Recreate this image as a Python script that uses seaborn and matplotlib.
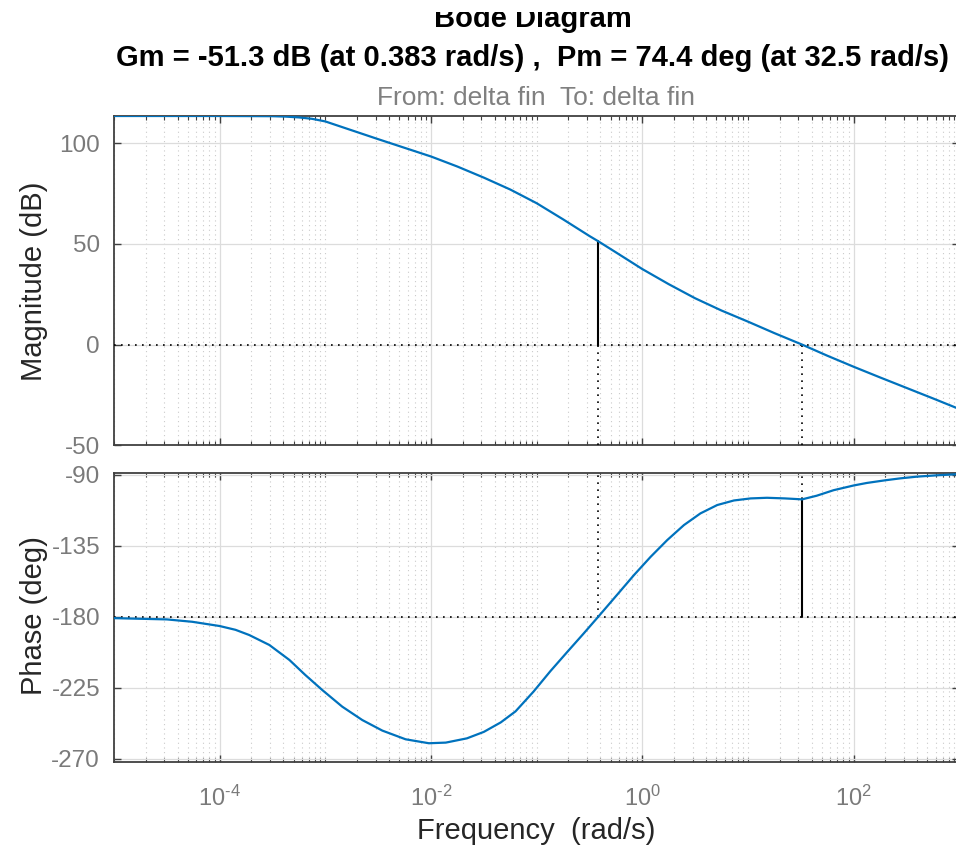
import numpy as np
import pandas as pd
import matplotlib
matplotlib.use("Agg")
import matplotlib.pyplot as plt
from matplotlib.ticker import FixedLocator, NullFormatter, FuncFormatter
from matplotlib.patches import Rectangle
import seaborn as sns

# ---------------- data ----------------
mag_logw = [-5.0, -4.0, -3.5, -3.375, -3.25, -3.125, -3.0, -2.875, -2.75, -2.5, -2.25,
            -2.0, -1.75, -1.5, -1.25, -1.0, -0.75, -0.5, -0.417, -0.25, 0.0, 0.25,
            0.5, 0.75, 1.0, 1.25, 1.512, 1.75, 2.0, 2.25, 2.5, 2.75, 3.0]
mag_db = [113.5, 113.5, 113.4, 113.2, 112.8, 112.1, 110.8, 108.6, 106.4, 102.0, 97.7,
          93.4, 88.4, 82.9, 77.0, 70.2, 62.2, 53.9, 51.3, 45.8, 37.5, 30.0,
          23.0, 16.9, 11.4, 5.7, 0.0, -5.5, -11.0, -16.3, -21.5, -26.7, -32.0]

ph_logw = [-5.0, -4.5, -4.26, -4.0, -3.85, -3.72, -3.53, -3.34, -3.19, -3.03, -2.84,
           -2.65, -2.46, -2.24, -2.02, -1.86, -1.66, -1.5, -1.34, -1.2, -1.03, -0.87,
           -0.71, -0.56, -0.417, -0.24, -0.079, 0.079, 0.236, 0.394, 0.55, 0.709, 0.867,
           1.025, 1.18, 1.35, 1.512, 1.65, 1.81, 2.0, 2.125, 2.3, 2.44, 2.6, 2.8, 3.0]
ph_deg = [-180.9, -181.7, -183.2, -185.9, -188.3, -191.6, -197.9, -207.4, -216.9, -226.4, -237.0,
          -245.5, -252.2, -257.7, -260.2, -259.8, -257.1, -253.0, -247.0, -240.0, -227.5, -214.5,
          -202.3, -191.0, -180.0, -166.2, -153.6, -142.0, -131.4, -121.9, -114.5, -109.2, -106.3,
          -105.0, -104.6, -105.0, -105.6, -103.3, -99.8, -96.8, -95.2, -93.5, -92.3, -91.2, -90.3, -89.6]

gm_freq = 0.383   # rad/s
gm_db = -51.3
pm_freq = 32.5    # rad/s
pm_deg = 74.4

mag_ticks = [-50, 0, 50, 100]
ph_ticks = [-270, -225, -180, -135, -90]
freq_ticks = [1e-4, 1e-2, 1e0, 1e2]

title1 = "Bode Diagram"
title2 = "Gm = -51.3 dB (at 0.383 rad/s) ,  Pm = 74.4 deg (at 32.5 rad/s)"
io_label = "From: delta fin  To: delta fin"

# ---------------- style ----------------
sns.set_style("ticks")
plt.rcParams['font.family'] = ['Liberation Sans', 'DejaVu Sans']
plt.rcParams['mathtext.fontset'] = 'custom'
plt.rcParams['mathtext.rm'] = 'Liberation Sans'
plt.rcParams['mathtext.it'] = 'Liberation Sans:italic'
plt.rcParams['mathtext.bf'] = 'Liberation Sans:bold'
plt.rcParams['mathtext.default'] = 'regular'
plt.rcParams['axes.unicode_minus'] = False

curve_color = "#0072BD"
spine_color = "#404040"
tick_color = "#7a7a7a"
label_color = "#262626"

W, H = 956, 848
fig = plt.figure(figsize=(W / 100, H / 100), dpi=100)

def frac_box(left, top, right, bottom):
    return [left / W, 1 - bottom / H, (right - left) / W, (bottom - top) / H]

ax1 = fig.add_axes(frac_box(114, 116, 959.3, 445.3))
ax2 = fig.add_axes(frac_box(114, 472.7, 959.3, 761.7))

mag_df = pd.DataFrame({"freq": 10 ** np.array(mag_logw), "mag": mag_db})
ph_df = pd.DataFrame({"freq": 10 ** np.array(ph_logw), "phase": ph_deg})

for ax in (ax1, ax2):
    ax.set_xscale("log")

sns.lineplot(data=mag_df, x="freq", y="mag", ax=ax1, color=curve_color, lw=1.6,
             sort=False, estimator=None, zorder=5)
sns.lineplot(data=ph_df, x="freq", y="phase", ax=ax2, color=curve_color, lw=1.6,
             sort=False, estimator=None, zorder=5)

xlim = (1e-5, 1e3)
ax1.set_ylim(-50, 113.5)
ax2.set_ylim(-271.9, -88.7)

minor_locs = [k * 10.0 ** n for n in range(-5, 3) for k in range(1, 10)
              if not any(abs(k * 10.0 ** n - t) / t < 1e-9 for t in freq_ticks)]


def pow10_label(v, pos):
    e = int(round(np.log10(v)))
    if e < 0:
        return r"$10^{\text{-}%d}$" % (-e)
    return r"$10^{%d}$" % e


dot = (0, (1, 3.2))
for ax, yt in ((ax1, mag_ticks), (ax2, ph_ticks)):
    ax.set_xlim(*xlim)
    ax.set_yticks(yt)
    ax.xaxis.set_major_locator(FixedLocator(freq_ticks))
    ax.xaxis.set_minor_locator(FixedLocator(minor_locs))
    ax.xaxis.set_minor_formatter(NullFormatter())
    ax.set_axisbelow(True)
    ax.grid(which="major", color="#dcdcdc", lw=0.9, ls="-")
    ax.grid(which="minor", axis="x", color="#cacaca", lw=0.8, ls=dot)
    ax.tick_params(which="both", direction="in", top=True, right=True,
                   color=spine_color, labelcolor=tick_color)
    ax.tick_params(which="major", length=5, width=1.0)
    ax.tick_params(which="minor", length=3, width=0.8)
    ax.tick_params(axis="y", labelsize=17.5, pad=10)
    for s in ax.spines.values():
        s.set_color(spine_color)
        s.set_linewidth(1.3)
        s.set_visible(True)
    ax.set_xlabel("")
    ax.set_ylabel("")

ax1.tick_params(axis="x", labelbottom=False)
ax2.xaxis.set_major_formatter(FuncFormatter(pow10_label))
ax2.tick_params(axis="x", labelsize=17, pad=17)

# margin markers
ax1.axhline(0, color="black", lw=1.2, ls=dot, zorder=4)
ax1.plot([gm_freq, gm_freq], [0, -gm_db], color="black", lw=1.5, zorder=4)
ax1.plot([gm_freq, gm_freq], [-50, 0], color="black", lw=1.2, ls=dot, zorder=4)
ax1.plot([pm_freq, pm_freq], [-50, 0], color="black", lw=1.2, ls=dot, zorder=4)

ax2.axhline(-180, color="black", lw=1.2, ls=dot, zorder=4)
ax2.plot([gm_freq, gm_freq], [-180, -88.7], color="black", lw=1.2, ls=dot, zorder=4)
ax2.plot([pm_freq, pm_freq], [-180, -180 + pm_deg], color="black", lw=1.5, zorder=4)
ax2.plot([pm_freq, pm_freq], [-180 + pm_deg, -88.7], color="black", lw=1.2, ls=dot, zorder=4)

# texts
fig.text(533 / W, 1 - 27 / H, title1, ha="center", va="baseline",
         fontsize=21, fontweight="bold", color="black", zorder=3)
fig.text(533 / W, 1 - 66 / H, title2, ha="center", va="baseline",
         fontsize=21, fontweight="bold", color="black")
fig.text(536 / W, 1 - 105 / H, io_label, ha="center", va="baseline",
         fontsize=19, color="#808080")
fig.text(34 / W, 1 - 281 / H, "Magnitude (dB)", ha="center", va="center",
         rotation=90, fontsize=21, color=label_color)
fig.text(34 / W, 1 - 616 / H, "Phase (deg)", ha="center", va="center",
         rotation=90, fontsize=21, color=label_color)
fig.text(536 / W, 1 - 839 / H, "Frequency  (rad/s)", ha="center", va="baseline",
         fontsize=21, color=label_color)

# the reference's top title is cut off at the upper edge
fig.add_artist(Rectangle((0, 1 - 12 / H), 1, 12 / H, transform=fig.transFigure,
                         facecolor="white", edgecolor="none", zorder=20))

fig.savefig("out.png", dpi=100)
